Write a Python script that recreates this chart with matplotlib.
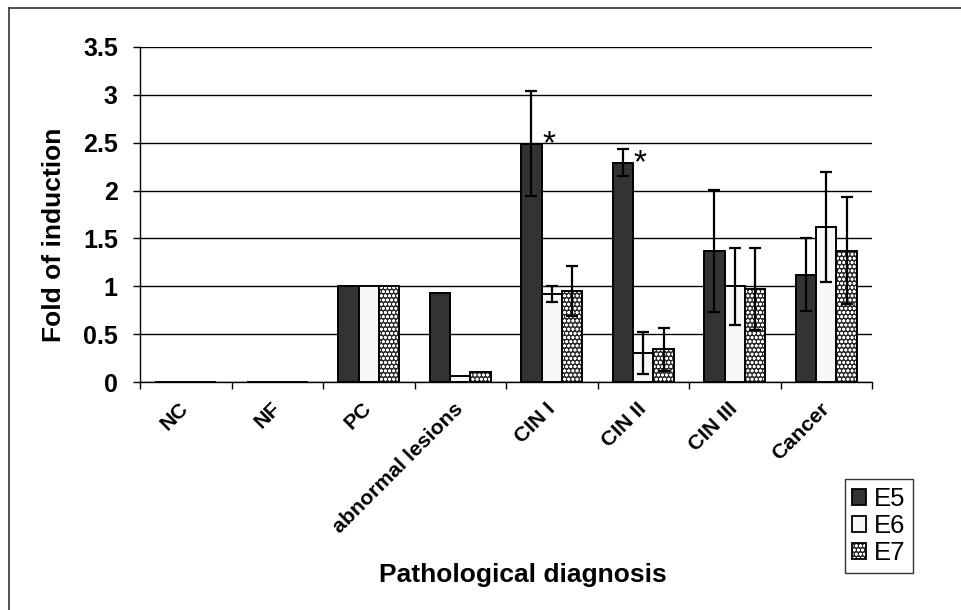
import numpy as np
import matplotlib
matplotlib.use("Agg")
import matplotlib.pyplot as plt
from matplotlib.patches import Patch
from matplotlib.legend_handler import HandlerTuple
from matplotlib.lines import Line2D

categories = ["NC", "NF", "PC", "abnormal lesions", "CIN I", "CIN II", "CIN III", "Cancer"]
series_names = ["E5", "E6", "E7"]
e5 = [0, 0, 1.0, 0.93, 2.49, 2.29, 1.37, 1.12]
e6 = [0, 0, 1.0, 0.06, 0.92, 0.30, 1.00, 1.62]
e7 = [0, 0, 1.0, 0.10, 0.95, 0.34, 0.97, 1.37]
e5_err = [np.nan, np.nan, np.nan, np.nan, 0.55, 0.14, 0.64, 0.38]
e6_err = [np.nan, np.nan, np.nan, np.nan, 0.08, 0.22, 0.40, 0.57]
e7_err = [np.nan, np.nan, np.nan, np.nan, 0.26, 0.22, 0.43, 0.56]
significant = ["CIN I", "CIN II"]  # E5 marked with *
y_ticks = [0, 0.5, 1, 1.5, 2, 2.5, 3, 3.5]
y_tick_labels = ["0", "0.5", "1", "1.5", "2", "2.5", "3", "3.5"]

plt.rcParams['font.family'] = ['Liberation Sans', 'DejaVu Sans']
plt.rcParams['hatch.linewidth'] = 0.8

W, H = 961, 610
fig = plt.figure(figsize=(W / 100, H / 100), dpi=100)
ax = fig.add_axes([140 / W, 1 - 382 / H, (872 - 140) / W, (382 - 47) / H])

x = np.arange(len(categories))
bw = 0.222
edge_lw = 1.4
hatch_face = "#2a2a2a"

ax.bar(x - bw, e5, bw, color="#333333", edgecolor="black", linewidth=edge_lw, zorder=3)
ax.bar(x, e6, bw, color="#f7f7f7", edgecolor="black", linewidth=edge_lw, zorder=3)
ax.bar(x + bw, e7, bw, color=hatch_face, edgecolor="white", hatch="oooo", linewidth=0, zorder=3)
ax.bar(x + bw, e7, bw, fill=False, edgecolor="black", linewidth=edge_lw, zorder=3.5)

for off, vals, errs in [(-bw, e5, e5_err), (0, e6, e6_err), (bw, e7, e7_err)]:
    v = np.array(vals, float)
    e = np.array(errs, float)
    m = ~np.isnan(e)
    ax.errorbar(x[m] + off, v[m], yerr=e[m], fmt="none", ecolor="black",
                elinewidth=1.6, capsize=4.2, capthick=1.6, zorder=4)

for c in significant:
    i = categories.index(c)
    ax.annotate("*", xy=(x[i] - bw + 0.19, e5[i] + 0.1), xytext=(0, -14),
                textcoords="offset points", ha="center", va="baseline",
                fontsize=24, zorder=5)

ax.set_ylim(0, 3.5)
ax.set_xlim(-0.5, len(categories) - 0.5)
ax.set_yticks(y_ticks)
ax.set_yticklabels(y_tick_labels, fontsize=18, fontweight="bold")
ax.yaxis.grid(True, color="black", linewidth=1.0, zorder=0)
ax.set_axisbelow(True)

ax.set_xticks(np.arange(len(categories) + 1) - 0.5)
ax.set_xticklabels([])
ax.set_xticks(x, minor=True)
ax.set_xticklabels(categories, minor=True, rotation=45, ha="right", va="center",
                   rotation_mode="anchor", fontsize=15.3, fontweight="bold")
ax.tick_params(axis="x", which="minor", length=0, pad=17)
ax.tick_params(axis="x", which="major", length=5, width=1.0, direction="out")
ax.tick_params(axis="y", length=5, width=1.0, direction="out", pad=11)

for s in ["top", "right"]:
    ax.spines[s].set_visible(False)
for s in ["left", "bottom"]:
    ax.spines[s].set_linewidth(1.0)
    ax.spines[s].set_color("black")

fig.text(54 / W, 1 - 235 / H, "Fold of induction", rotation=90, ha="center", va="center",
         fontsize=19, fontweight="bold")
fig.text(523 / W, 1 - 575 / H, "Pathological diagnosis", ha="center", va="center",
         fontsize=19, fontweight="bold")

h5 = Patch(facecolor="#333333", edgecolor="black", linewidth=1.3)
h6 = Patch(facecolor="#f7f7f7", edgecolor="black", linewidth=1.3)
h7 = (Patch(facecolor=hatch_face, edgecolor="white", hatch="oooo", linewidth=0),
      Patch(fill=False, edgecolor="black", linewidth=1.3))
leg = fig.legend([h5, h6, h7], series_names, loc="center",
                 bbox_to_anchor=(879 / W, 1 - 526 / H), fontsize=18.5,
                 handler_map={tuple: HandlerTuple(ndivide=1, pad=0)},
                 handlelength=0.55, handleheight=0.6, handletextpad=0.3,
                 labelspacing=0.12, borderpad=0.3, borderaxespad=0,
                 fancybox=False, framealpha=1, edgecolor="#333333")
leg.get_frame().set_linewidth(1.0)

# outer frame (top and left edges)
fig.add_artist(Line2D([9 / W, 1], [1 - 8 / H, 1 - 8 / H], color="#333333", linewidth=1.2))
fig.add_artist(Line2D([9 / W, 9 / W], [0, 1 - 8 / H], color="#333333", linewidth=1.2))

fig.savefig("out.png", dpi=100, facecolor="white")
